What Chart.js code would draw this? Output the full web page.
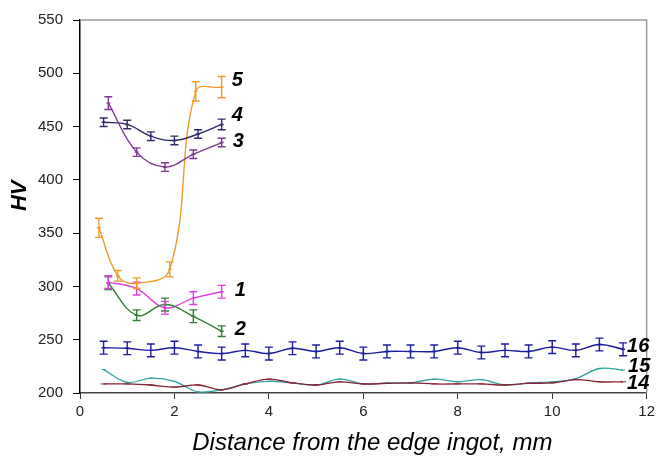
<!DOCTYPE html>
<html><head><meta charset="utf-8">
<script src="https://cdn.jsdelivr.net/npm/chart.js@4.4.0/dist/chart.umd.min.js"></script>
<style>html,body{margin:0;padding:0;background:#fff}</style>
</head><body>
<canvas id="c" width="659" height="457" style="display:block;width:659px;height:457px"></canvas>
<script>
// ---- data ----
const xTickLabels = [0, 2, 4, 6, 8, 10, 12];
const yTickLabels = [200, 250, 300, 350, 400, 450, 500, 550];
const xTitle = 'Distance from the edge ingot, mm';
const yTitle = 'HV';

const s5x = [0.4, 0.8, 1.2, 1.9, 2.45, 3.0];
const s5y = [355, 310, 303, 316, 483, 487];
const s5e = [9, 5, 5, 7, 9, 10];

const s4x = [0.5, 1.0, 1.5, 2.0, 2.5, 3.0];
const s4y = [454, 452, 441, 437, 443, 452];
const s4e = [4, 4, 4, 4, 4, 5];

const s3x = [0.6, 1.2, 1.8, 2.4, 3.0];
const s3y = [472, 426, 412, 424, 435];
const s3e = [6, 4, 4, 4, 4];

const s1x = [0.6, 1.2, 1.8, 2.4, 3.0];
const s1y = [304, 298, 280, 289, 295];
const s1e = [6, 6, 6, 6, 6];

const s2x = [0.6, 1.2, 1.8, 2.4, 3.0];
const s2y = [303, 273, 283, 272, 258];
const s2e = [6, 5, 6, 6, 5];

const sLongX = [0.5,1.0,1.5,2.0,2.5,3.0,3.5,4.0,4.5,5.0,5.5,6.0,6.5,7.0,7.5,8.0,8.5,9.0,9.5,10.0,10.5,11.0,11.5];
const s16y = [242.5,242,240,242.5,239,237,240,237,242,239,242.5,237,239,239,239,242.5,238,240,239,243,240,245.5,241];
const s16e = [6,6,6,6,6,6,6,6,6,6,6,6,6,6,6,6,6,6,6,6,6,6,6];
const s15y = [222,210,214,211,201,203,208.5,211,209.5,207.5,213,208.5,209.5,209.5,213,210.5,212.5,207.5,209.5,210.5,213.5,223,221.5];
const s14y = [208.5,208.5,207.5,205.5,207.5,203,208.5,213,209.5,207.5,210.5,208.5,209,209.5,208.5,208.5,208.5,207.5,209,209.5,212.5,210.5,210.5];

const seriesNames = ['5', '4', '3', '1', '2', '16', '15', '14'];

function pts(xs, ys) { return xs.map((x, i) => ({x: x, y: ys[i]})); }

function ds(name, xs, ys, errs, color, off, extra) {
  return Object.assign({
    label: name,
    data: pts(xs, ys),
    errors: errs,
    borderColor: color,
    backgroundColor: color,
    borderWidth: 1.4,
    tension: 0.4,
    pointRadius: 0,
    labelOffset: off,
    fill: false
  }, extra || {});
}

const datasets = [
  ds(seriesNames[7], sLongX, s14y, null, '#8a2335', [4, 2], {pointStyle: 'line', pointRadius: 3, pointBorderWidth: 1, borderWidth: 1.3}),
  ds(seriesNames[6], sLongX, s15y, null, '#2fa3a0', [5, -4], {pointStyle: 'line', pointRadius: 2, pointBorderWidth: 1, borderWidth: 1.3}),
  ds(seriesNames[5], sLongX, s16y, s16e, '#1c1ca0', [4, -3]),
  ds(seriesNames[4], s2x, s2y, s2e, '#2e8036', [13, -2]),
  ds(seriesNames[3], s1x, s1y, s1e, '#e040e0', [13, -1]),
  ds(seriesNames[2], s3x, s3y, s3e, '#7d3a90', [11, -1]),
  ds(seriesNames[1], s4x, s4y, s4e, '#2d2b6e', [10, -9]),
  ds(seriesNames[0], s5x, s5y, s5e, '#f19a2a', [10, -7])
];

const errorBars = {
  id: 'errorBars',
  afterDatasetsDraw(chart) {
    const ctx = chart.ctx, xs = chart.scales.x, ys = chart.scales.y;
    chart.data.datasets.forEach(d => {
      if (!d.errors) return;
      ctx.save();
      ctx.strokeStyle = d.borderColor;
      ctx.lineWidth = 1.4;
      d.data.forEach((p, j) => {
        const e = d.errors[j];
        const px = xs.getPixelForValue(p.x);
        const y1 = ys.getPixelForValue(p.y + e), y2 = ys.getPixelForValue(p.y - e);
        const yc = ys.getPixelForValue(p.y);
        ctx.beginPath();
        ctx.moveTo(px, y1); ctx.lineTo(px, y2);
        ctx.moveTo(px - 4, y1); ctx.lineTo(px + 4, y1);
        ctx.moveTo(px - 4, y2); ctx.lineTo(px + 4, y2);
        ctx.moveTo(px - 2, yc); ctx.lineTo(px + 2, yc);
        ctx.stroke();
      });
      ctx.restore();
    });
  }
};

const seriesLabels = {
  id: 'seriesLabels',
  afterDatasetsDraw(chart) {
    const ctx = chart.ctx, xs = chart.scales.x, ys = chart.scales.y;
    ctx.save();
    ctx.fillStyle = '#000';
    ctx.font = 'italic bold 20px "Liberation Sans", Arial, sans-serif';
    ctx.textBaseline = 'middle';
    ctx.textAlign = 'left';
    chart.data.datasets.forEach(d => {
      const last = d.data[d.data.length - 1];
      const px = xs.getPixelForValue(last.x) + d.labelOffset[0];
      const py = ys.getPixelForValue(last.y) + d.labelOffset[1];
      ctx.fillText(d.label, px, py);
    });
    ctx.restore();
  }
};

const frame = {
  id: 'frame',
  beforeDatasetsDraw(chart) {
    const a = chart.chartArea, ctx = chart.ctx;
    ctx.save();
    ctx.strokeStyle = '#9a9a9a';
    ctx.lineWidth = 1.5;
    ctx.beginPath();
    ctx.moveTo(a.left, a.top); ctx.lineTo(a.right, a.top); ctx.lineTo(a.right, a.bottom);
    ctx.stroke();
    ctx.restore();
  }
};

// axis titles drawn where the reference has them (slightly off-centre)
const titlesPlugin = {
  id: 'titlesPlugin',
  afterDraw(chart) {
    const ctx = chart.ctx, ys = chart.scales.y, xs = chart.scales.x;
    ctx.save();
    ctx.fillStyle = '#000';
    ctx.textAlign = 'center';
    ctx.textBaseline = 'middle';
    ctx.font = 'italic 24px "Liberation Sans", Arial, sans-serif';
    ctx.fillText(xTitle, (xs.left + xs.right) / 2 + 9, 443);
    ctx.translate(20, ys.getPixelForValue(385));
    ctx.rotate(-Math.PI / 2);
    ctx.font = 'italic bold 22px "Liberation Sans", Arial, sans-serif';
    ctx.fillText(yTitle, 0, 0);
    ctx.restore();
  }
};

const tickFont = {family: '"Liberation Sans Narrow", "Arial Narrow", "Liberation Sans", sans-serif', size: 15};

new Chart(document.getElementById('c'), {
  type: 'line',
  data: {datasets: datasets},
  plugins: [frame, errorBars, seriesLabels, titlesPlugin],
  options: {
    responsive: false,
    devicePixelRatio: 1,
    animation: false,
    layout: {padding: {top: 20, right: 11, left: 0, bottom: 0}},
    plugins: {legend: {display: false}, tooltip: {enabled: false}},
    scales: {
      x: {
        type: 'linear', min: xTickLabels[0], max: xTickLabels[xTickLabels.length - 1],
        afterBuildTicks(s) { s.ticks = xTickLabels.map(v => ({value: v})); },
        ticks: {font: tickFont, color: '#222', padding: 4, maxRotation: 0},
        grid: {drawOnChartArea: false, drawTicks: true, tickLength: 6, color: '#333', lineWidth: 1},
        border: {color: '#444', width: 1.5},
        title: {display: false},
        afterFit(s) { s.height = 64; }
      },
      y: {
        type: 'linear', min: yTickLabels[0], max: yTickLabels[yTickLabels.length - 1],
        afterBuildTicks(s) { s.ticks = yTickLabels.map(v => ({value: v})); },
        ticks: {font: tickFont, color: '#222', padding: 10},
        grid: {drawOnChartArea: false, drawTicks: true, tickLength: 7, color: '#000', lineWidth: 1},
        border: {color: '#000', width: 1.5},
        title: {display: false},
        afterFit(s) { s.width = 80; }
      }
    }
  }
});
</script>
</body></html>
